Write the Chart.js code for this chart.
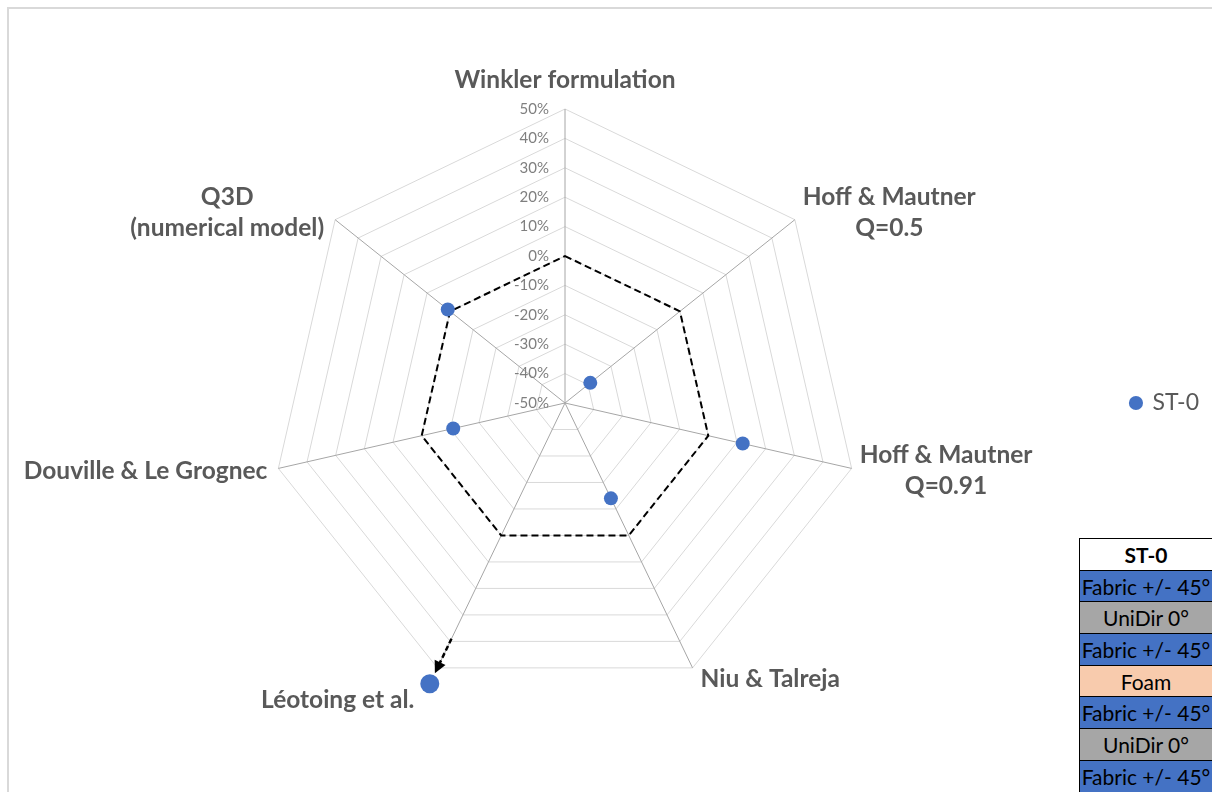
<!DOCTYPE html>
<html>
<head>
<meta charset="utf-8">
<title>ST-0 buckling models</title>
<script src="https://cdn.jsdelivr.net/npm/chart.js@4"></script>
<style>
  html, body { margin: 0; padding: 0; background: #fff; overflow: hidden; }
  #wrap { position: relative; width: 1212px; height: 792px; }
  #frame {
    position: absolute; left: 7px; top: 7px; right: -10px; bottom: -10px;
    border-top: 2px solid #d9d9d9; border-left: 2px solid #d9d9d9;
  }
  canvas { position: absolute; left: 0; top: 0; }
  #stack {
    position: absolute; left: 1079px; top: 538px; width: 134px;
    border-collapse: collapse; font-family: Lato, sans-serif; font-size: 21px; color: #000;
  }
  #stack td, #stack th {
    border: 1px solid #000; height: 30.7px; padding: 0;
    text-align: center; white-space: nowrap;
  }
  #stack th { background: #fff; font-weight: bold; }
</style>
</head>
<body>
<div id="wrap">
  <div id="frame"></div>
  <canvas id="radar" width="1212" height="792"></canvas>
  <table id="stack"></table>
</div>
<script>
const models = [
  'Winkler formulation',
  ['Hoff & Mautner', 'Q=0.5'],
  ['Hoff & Mautner', 'Q=0.91'],
  'Niu & Talreja',
  'Léotoing et al.',
  'Douville & Le Grognec',
  ['Q3D', '(numerical model)'],
];
// relative deviation (%) of each model for ST-0
const st0Deviation = [null, -39, 12, -14, 56, -11, 1];
const referenceLine = [0, 0, 0, 0, 0, 0, 0];
const scaleMin = -50;
const scaleMax = 50;
const scaleStep = 10;

const stackTitle = 'ST-0';
const stackLayers = ['Fabric +/- 45°', 'UniDir 0°', 'Fabric +/- 45°', 'Foam', 'Fabric +/- 45°', 'UniDir 0°', 'Fabric +/- 45°'];
const layerColours = { 'Fabric +/- 45°': '#4472c4', 'UniDir 0°': '#a6a6a6', 'Foam': '#f8cbad' };

// layup table
const table = document.getElementById('stack');
table.innerHTML = `<tr><th>${stackTitle}</th></tr>` +
  stackLayers.map(l => `<tr><td style="background:${layerColours[l]}">${l}</td></tr>`).join('');

const blue = '#4472c4';
const labelGrey = '#595959';

// tick labels sit to the left of the top axis, like the spreadsheet version
const tickLabels = {
  id: 'tickLabels',
  beforeDatasetsDraw(chart) {
    const r = chart.scales.r;
    const ctx = chart.ctx;
    ctx.save();
    ctx.font = '15px Lato';
    ctx.fillStyle = '#7f7f7f';
    ctx.textAlign = 'right';
    ctx.textBaseline = 'middle';
    r.ticks.forEach(t => {
      const p = r.getPointPositionForValue(0, t.value);
      ctx.fillText(t.value + '%', p.x - 16, p.y);
    });
    ctx.restore();
  }
};

// axis titles: boxes pushed outward from each outer vertex, multi-line centred
const axisTitles = {
  id: 'axisTitles',
  afterDraw(chart, args, opts) {
    const r = chart.scales.r;
    const ctx = chart.ctx;
    const lh = opts.lineHeight;
    ctx.save();
    ctx.font = opts.font;
    ctx.fillStyle = labelGrey;
    ctx.textBaseline = 'middle';
    ctx.textAlign = 'center';
    models.forEach((label, i) => {
      const lines = Array.isArray(label) ? label : [label];
      const v = r.getPointPosition(i, r.drawingArea);
      const angle = (i * 2 * Math.PI) / models.length;
      const s = Math.sin(angle), c = Math.cos(angle);
      const w = Math.max(...lines.map(t => ctx.measureText(t).width));
      let cx, cy;
      if (Math.abs(s) < 0.1) {
        cx = v.x;
        cy = v.y - 29 - (lines.length - 1) * lh / 2;
      } else if (s > 0) {
        cx = v.x + 8 + w / 2;
        cy = v.y - 12 * c;
      } else {
        cx = v.x - 11 - w / 2;
        cy = v.y - 12 * c;
      }
      const n = opts.nudge[i];
      if (n) { cx += n[0]; cy += n[1]; }
      lines.forEach((t, k) => {
        ctx.fillText(t, cx, cy + (k - (lines.length - 1) / 2) * lh);
      });
    });
    ctx.restore();
  }
};

// dashed arrow along the Léotoing axis, showing the value runs off the scale
const offScaleArrow = {
  id: 'offScaleArrow',
  afterDatasetsDraw(chart) {
    const r = chart.scales.r;
    const idx = st0Deviation.findIndex(v => v !== null && v > scaleMax);
    if (idx < 0) return;
    const a = r.getPointPositionForValue(idx, 39);
    const b = r.getPointPositionForValue(idx, 52);
    const ang = Math.atan2(b.y - a.y, b.x - a.x);
    const ctx = chart.ctx;
    ctx.save();
    ctx.strokeStyle = '#000';
    ctx.fillStyle = '#000';
    ctx.lineWidth = 2.5;
    ctx.setLineDash([5, 3]);
    ctx.beginPath();
    ctx.moveTo(a.x, a.y);
    ctx.lineTo(b.x - 9 * Math.cos(ang), b.y - 9 * Math.sin(ang));
    ctx.stroke();
    ctx.setLineDash([]);
    ctx.beginPath();
    ctx.moveTo(b.x, b.y);
    ctx.lineTo(b.x - 12 * Math.cos(ang) + 6 * Math.sin(ang), b.y - 12 * Math.sin(ang) - 6 * Math.cos(ang));
    ctx.lineTo(b.x - 12 * Math.cos(ang) - 6 * Math.sin(ang), b.y - 12 * Math.sin(ang) + 6 * Math.cos(ang));
    ctx.closePath();
    ctx.fill();
    ctx.restore();
  }
};

new Chart(document.getElementById('radar'), {
  type: 'radar',
  data: {
    labels: models,
    datasets: [
      {
        label: 'ST-0',
        data: st0Deviation,
        showLine: false,
        fill: false,
        backgroundColor: blue,
        borderColor: blue,
        pointBackgroundColor: blue,
        pointBorderColor: blue,
        pointBorderWidth: 0,
        pointRadius: st0Deviation.map(v => (v !== null && v > scaleMax ? 9.5 : 7)),
        pointStyle: 'circle',
      },
      {
        label: 'reference',
        data: referenceLine,
        borderColor: '#000',
        borderWidth: 2,
        borderDash: [7, 4],
        pointRadius: 0,
        fill: false,
      },
    ],
  },
  options: {
    responsive: false,
    animation: false,
    layout: { padding: { left: 10, right: 3, top: 109, bottom: 95 } },
    scales: {
      r: {
        min: scaleMin,
        max: scaleMax,
        ticks: { display: false, stepSize: scaleStep },
        pointLabels: { display: false },
        grid: { color: '#d9d9d9', lineWidth: 1 },
        angleLines: { color: '#a6a6a6', lineWidth: 1 },
      },
    },
    plugins: {
      legend: {
        position: 'right',
        labels: {
          filter: item => item.text === 'ST-0',
          usePointStyle: true,
          boxWidth: 10,
          boxHeight: 10,
          padding: 10,
          color: labelGrey,
          font: { family: 'Lato', size: 23 },
        },
      },
      tooltip: { enabled: false },
      axisTitles: {
        font: 'bold 24.5px Lato',
        lineHeight: 31,
        nudge: { 4: [-12, 21] },
      },
    },
  },
  plugins: [tickLabels, axisTitles, offScaleArrow],
});
</script>
</body>
</html>
